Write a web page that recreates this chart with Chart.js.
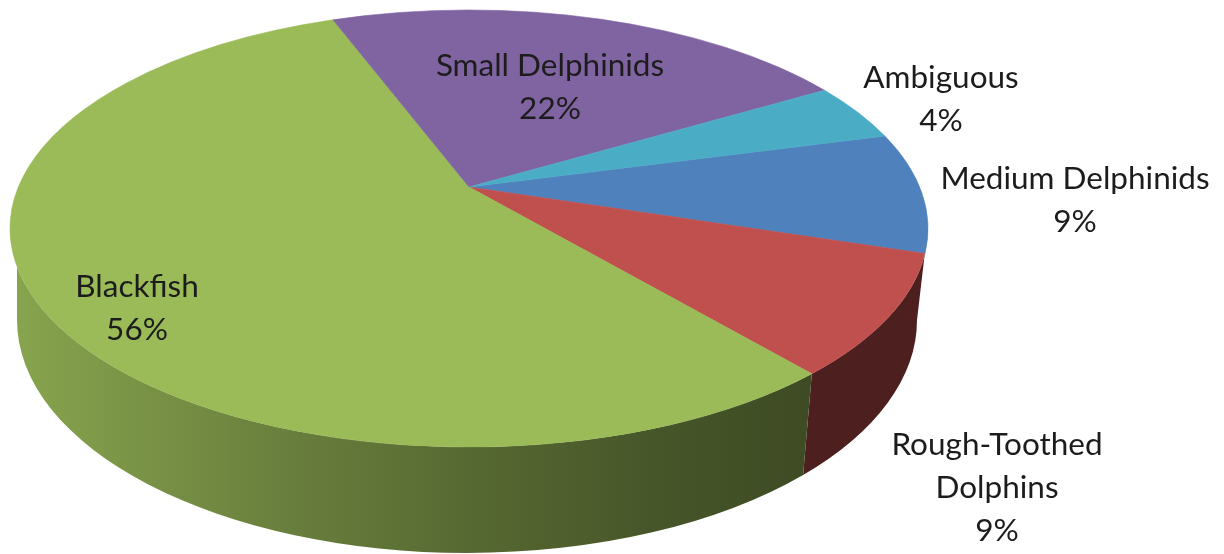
<!DOCTYPE html>
<html>
<head>
<meta charset="utf-8">
<style>
  html, body { margin: 0; padding: 0; background: #fff; }
  #pieChart { display: block; }
</style>
<script src="https://cdn.jsdelivr.net/npm/chart.js@4/dist/chart.umd.min.js"></script>
</head>
<body>
<canvas id="pieChart" width="1224" height="554"></canvas>
<script>
// In the order the slices run clockwise
const categories = ['Medium Delphinids', ['Rough-Toothed', 'Dolphins'], 'Blackfish', 'Small Delphinids', 'Ambiguous'];
const shares = [8.9, 8.9, 55.5, 22.4, 4.3];
const colors = ['#4F81BD', '#C0504D', '#9BBB59', '#8064A2', '#4BACC6'];

// Centre of each label, first line baseline-middle and line step
const labelSpots = [[1075, 179], [997, 445], [137, 287], [550, 66], [941, 78]];
const lineStep = 43;

// Top face ellipse, tilted so the apex sits above its centre
const top3d = { cx: 469, cy: 228.5, rx: 459, ry: 218.5, apex: 0.19 };
// Lower edge of the wall
const low3d = { cx: 467, cy: 320, rx: 450, ry: 233 };
// Part of the top rim that has a wall under it
const wallFrom = 7 * Math.PI / 180;
const wallTo = 170 * Math.PI / 180;
// Wall shading from left to right, as a factor on the slice colour
const wallShade = [[0, 0.88], [0.3, 0.68], [0.5, 0.56], [0.7, 0.46], [0.87, 0.4], [1, 0.4]];

// Chart.js angle -> angle on the top ellipse, with the perspective of the disc
function rimAngle(a) {
    const t = a + Math.PI / 2;
    const d = top3d.apex;
    const den = 1 + d * Math.cos(t);
    const u = Math.sin(t) * Math.sqrt(1 - d * d) / den;
    const v = (Math.cos(t) + d) / den;
    return Math.atan2(-v, u);
}

function shadeColor(hex, f) {
    const n = parseInt(hex.slice(1), 16);
    return `rgb(${(n >> 16 & 255) * f}, ${(n >> 8 & 255) * f}, ${(n & 255) * f})`;
}

function drawWall(ctx, chartArc, color) {
    let a = rimAngle(chartArc.startAngle);
    let b = rimAngle(chartArc.endAngle);
    if (b < a) b += Math.PI * 2;
    if (a < 0 && b > 0 && b < wallFrom) return;
    const from = Math.max(a, wallFrom);
    const to = Math.min(b, wallTo);
    if (to <= from) return;

    const grad = ctx.createLinearGradient(top3d.cx - top3d.rx, 0, top3d.cx + top3d.rx, 0);
    wallShade.forEach(s => grad.addColorStop(s[0], shadeColor(color, s[1])));

    ctx.beginPath();
    ctx.ellipse(top3d.cx, top3d.cy, top3d.rx, top3d.ry, 0, from, to);
    const lowEnd = to === wallTo ? Math.PI : to;
    const lowStart = from === wallFrom ? 0 : from;
    ctx.ellipse(low3d.cx, low3d.cy, low3d.rx, low3d.ry, 0, lowEnd, lowStart, true);
    ctx.closePath();
    ctx.fillStyle = grad;
    ctx.fill();
}

function drawTop(ctx, chartArc, color) {
    const a = rimAngle(chartArc.startAngle);
    const b = rimAngle(chartArc.endAngle);
    const apexY = top3d.cy - top3d.apex * top3d.ry;
    ctx.beginPath();
    ctx.moveTo(top3d.cx, apexY);
    ctx.ellipse(top3d.cx, top3d.cy, top3d.rx, top3d.ry, 0, a, b);
    ctx.closePath();
    ctx.fillStyle = color;
    ctx.strokeStyle = color;
    ctx.lineWidth = 0.6;
    ctx.fill();
    ctx.stroke();
}

// Pie slices come from the doughnut controller, only their look is changed here
const pie3d = {
    id: 'pie3d',
    beforeDatasetsDraw(chart) {
        const ctx = chart.ctx;
        const arcs = chart.getDatasetMeta(0).data;
        ctx.save();
        arcs.forEach((arc, i) => drawWall(ctx, arc, colors[i]));
        arcs.forEach((arc, i) => drawTop(ctx, arc, colors[i]));
        ctx.restore();
        return false;
    },
    afterDraw(chart) {
        const ctx = chart.ctx;
        ctx.save();
        ctx.font = '31.5px Lato';
        ctx.fillStyle = '#1c1c1c';
        ctx.textAlign = 'center';
        ctx.textBaseline = 'middle';
        chart.data.labels.forEach((label, i) => {
            const lines = [].concat(label, Math.round(shares[i]) + '%');
            lines.forEach((line, k) => {
                ctx.fillText(line, labelSpots[i][0], labelSpots[i][1] + k * lineStep);
            });
        });
        ctx.restore();
    }
};

new Chart(document.getElementById('pieChart'), {
    type: 'pie',
    data: {
        labels: categories,
        datasets: [{ data: shares, backgroundColor: colors, borderWidth: 0 }]
    },
    options: {
        responsive: false,
        animation: false,
        rotation: 75.3,
        plugins: { legend: { display: false }, tooltip: { enabled: false } }
    },
    plugins: [pie3d]
});
</script>
</body>
</html>
